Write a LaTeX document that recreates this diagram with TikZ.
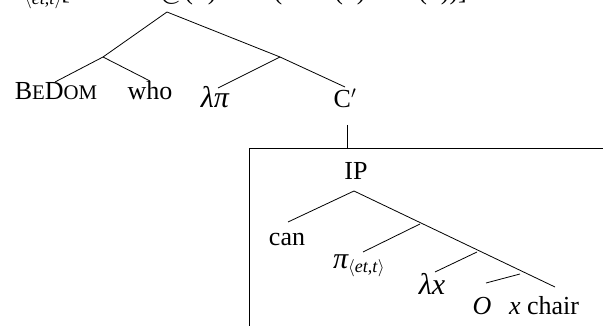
\documentclass[tikz,border=0pt]{standalone}
\usepackage{fontspec}
\setmainfont{Liberation Serif}
\newcommand{\grk}[1]{{\fontsize{30}{32}\selectfont\itshape #1}}
\newcommand{\typ}{\raisebox{-5pt}{\fontsize{18}{18}\selectfont$\langle$\textit{et},\textit{t}$\rangle$}}
\begin{document}
\begin{tikzpicture}[x=1pt,y=-1pt,
  lab/.style={font=\fontsize{26}{30}\selectfont, inner sep=0pt, anchor=base},
  edge/.style={line width=0.8pt},
  boxline/.style={line width=0.8pt}]
\useasboundingbox (0,0) rectangle (603,326);
\clip (0,0) rectangle (603,326);
% clipped formula at the top
\node[lab, anchor=base west] (formula) at (-4,0) {$\exists$\grk{π}\typ[$\neg$P\ \ P\ \ =\,@($\pi$)\ $\wedge$\ $\forall x$(chair($x$)\ $\rightarrow$\ \grk{π}($x$))]};
% coordinates
\coordinate (root) at (167,12);
\coordinate (A) at (103,57);
\coordinate (B) at (280,57);
\coordinate (ip1) at (354,191);
\coordinate (ip2) at (420,224);
\coordinate (ip3) at (477,252);
\coordinate (ip4) at (520,274);
% labels
\node[lab] (bedom) at (56,100) {B{\fontsize{20.8}{22}\selectfont E}D{\fontsize{20.8}{22}\selectfont OM}};
\node[lab] (who) at (150,100) {who};
\node[lab] (lampi) at (215,108) {\grk{λπ}};
\node[lab] (cbar) at (345,108) {C$'$};
\node[lab] (ip) at (356,180) {IP};
\node[lab] (can) at (287,246) {can};
\node[lab, anchor=base west] (pi) at (333,268) {\grk{π}\typ};
\node[lab] (lamx) at (432,294) {\grk{λx}};
\node[lab] (O) at (482,314) {\itshape O};
\node[lab] (xchair) at (544,314) {\textit{x} chair};
% end points
\coordinate (bedomT) at (55,82);
\coordinate (whoT) at (150,81);
\coordinate (lampiT) at (218,88);
\coordinate (cbarT) at (345,87);
\coordinate (cbarB) at (347,125);
\coordinate (boxT) at (347,148);
\coordinate (canT) at (288,222);
\coordinate (piT) at (363,252);
\coordinate (lamxT) at (435,272);
\coordinate (OT) at (486,283);
\coordinate (xchairT) at (555,287);
% edges
\draw[edge] (A) -- (root) -- (B);
\draw[edge] (bedomT) -- (A) -- (whoT);
\draw[edge] (lampiT) -- (B) -- (cbarT);
\draw[edge] (cbarB) -- (boxT);
\draw[boxline] (249,340) -- (249,148) -- (620,148);
\draw[edge] (canT) -- (ip1) -- (xchairT);
\draw[edge] (ip2) -- (piT);
\draw[edge] (ip3) -- (lamxT);
\draw[edge] (ip4) -- (OT);
\end{tikzpicture}
\end{document}
